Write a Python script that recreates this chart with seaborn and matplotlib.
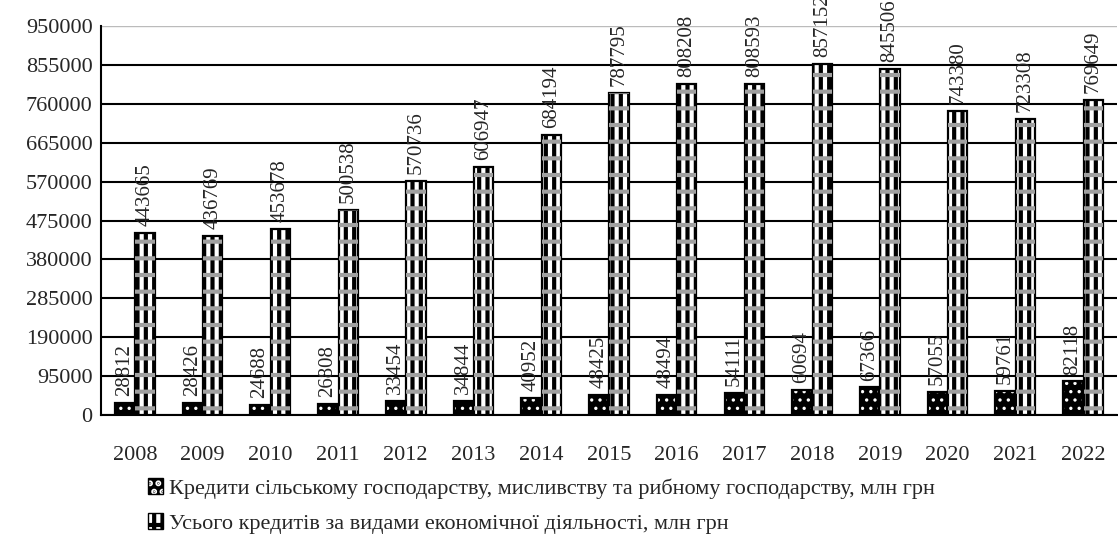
import numpy as np
import pandas as pd
import seaborn as sns
import matplotlib.pyplot as plt
from matplotlib.patches import Rectangle, Patch

years = [str(y) for y in range(2008, 2023)]
agri = [28812, 28426, 24688, 26808, 33454, 34844, 40952, 48425, 48494, 54111,
        60694, 67366, 57055, 59761, 82118]
total = [443665, 436769, 453678, 500538, 570736, 606947, 684194, 787795, 808208,
         808593, 857152, 845506, 743380, 723308, 769649]
names = ["Кредити сільському господарству, мисливству та рибному господарству, млн грн",
         "Усього кредитів за видами економічної діяльності, млн грн"]

df = pd.DataFrame({"year": years * 2,
                   "value": agri + total,
                   "series": [names[0]] * len(years) + [names[1]] * len(years)})

sns.set_style("white")
plt.rcParams['font.family'] = ['Liberation Serif', 'DejaVu Serif']
plt.rcParams['hatch.linewidth'] = 3.0

fig = plt.figure(figsize=(11.18, 5.44), dpi=100)
ax = fig.add_axes([0.0903, 0.237, 0.9087, 0.715])

sns.barplot(data=df, x="year", y="value", hue="series", width=0.6, gap=0.05,
            palette=["black", "white"], edgecolor="black", linewidth=1.6,
            legend=False, ax=ax, zorder=3)

def set_hatch_col(p, c):
    if hasattr(p, "set_hatchcolor"):
        p.set_hatchcolor(c)
    else:
        p._hatch_color = plt.matplotlib.colors.to_rgba(c)

def thin_dots(p):
    # smaller white dots on the agri bars
    if hasattr(p, "set_hatch_linewidth"):
        p.set_hatch_linewidth(1.2)
    elif hasattr(p, "_hatch_linewidth"):
        p._hatch_linewidth = 1.2

for p in ax.containers[0]:
    p.set_hatch("..")
    set_hatch_col(p, "white")
    thin_dots(p)
for p in ax.containers[1]:
    p.set_hatch("||")
    set_hatch_col(p, "black")
    ov = Rectangle(p.get_xy(), p.get_width(), p.get_height(), facecolor="none",
                   edgecolor="none", hatch="-", zorder=4)
    set_hatch_col(ov, "#a0a0a0")
    ax.add_patch(ov)

for c in ax.containers:
    ax.bar_label(c, labels=[str(int(v)) for v in c.datavalues], rotation=90,
                 padding=5, fontsize=15, clip_on=False)

ax.set_ylim(0, 950000)
ax.set_yticks(np.arange(0, 950001, 95000))
ax.set_xlim(-0.5, len(years) - 0.5)
ax.grid(axis="y", color="black", linewidth=1.5, zorder=0)
ax.set_axisbelow(True)
ax.yaxis.get_gridlines()[-1].set_color("#bbbbbb")
ax.yaxis.get_gridlines()[-1].set_linewidth(1.0)
ax.set_xlabel("")
ax.set_ylabel("")
ax.tick_params(axis="both", labelsize=16, length=0, pad=6)
ax.tick_params(axis="x", pad=22)
ax.set_xticks(np.arange(-0.5, len(years), 1.0), minor=True)
ax.tick_params(axis="x", which="minor", length=9, width=1.5, color="black",
               direction="out")
for s in ["top", "right"]:
    ax.spines[s].set_visible(False)
for s in ["left", "bottom"]:
    ax.spines[s].set_color("black")
    ax.spines[s].set_linewidth(1.5)

h1 = Patch(facecolor="black", edgecolor="black", hatch="..")
set_hatch_col(h1, "white")
thin_dots(h1)
h2 = Patch(facecolor="white", edgecolor="black", hatch="||-")
handles = [h1, h2]
leg = fig.legend(handles, names, loc="upper left", bbox_to_anchor=(0.132, 0.121),
                 frameon=False, fontsize=16, handlelength=0.7, handleheight=0.7,
                 handletextpad=0.25, labelspacing=0.65, borderaxespad=0,
                 borderpad=0)

fig.savefig("out.png", dpi=100)
